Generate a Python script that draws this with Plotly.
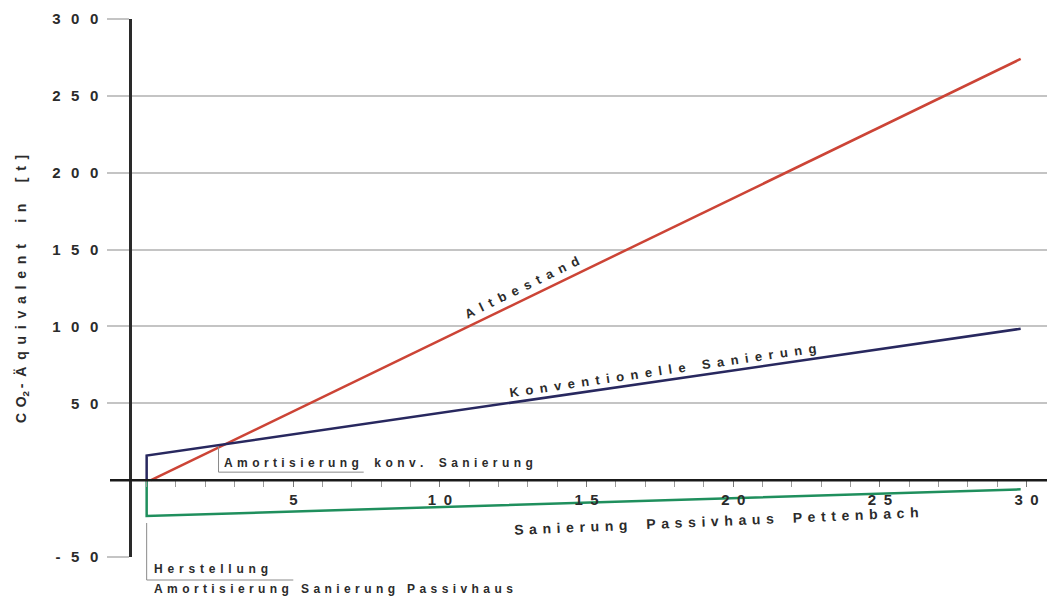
import plotly.graph_objects as go

# ---- data ----
years_alt = [0.15, 29.8]
co2_alt = [0, 274]
years_konv = [0, 0, 29.8]
co2_konv = [0, 16, 98.5]
years_passiv = [0, 0, 29.8]
co2_passiv = [0, -23.3, -6]

y_tickvals = [-50, 50, 100, 150, 200, 250, 300]
y_ticktext = ["-50", "50", "100", "150", "200", "250", "300"]
x_tickvals = [5, 10, 15, 20, 25, 30]
x_ticktext = ["5", "10", "15", "20", "25", "30"]

RED = "#cc4436"
BLUE = "#28285f"
GREEN = "#1f8f5d"
TXT = "#2b2b2b"
FONT = "Liberation Sans"

NB = "\u00a0"
EN = "\u2002"
TH = "\u2009"
HA = "\u200a"


def sp(s, gap=NB, wordgap=NB * 2):
    out = []
    for ch in s:
        out.append(wordgap if ch == " " else ch)
    return gap.join(out)


# page body has an 8px margin: the figure starts at screen (8, 8)
OFF = 8
SW, SH = 1055, 599
W, H = SW - OFF, SH - OFF
PLOT_L, PLOT_R, PLOT_T, PLOT_B = 132, 1050, 19, 557   # screen pixels
L, R, T, B = PLOT_L - OFF, W - (PLOT_R - OFF), PLOT_T - OFF, H - (PLOT_B - OFF)
PW, PH = PLOT_R - PLOT_L, PLOT_B - PLOT_T


def px(xpix):
    return (xpix - PLOT_L) / PW


def py(ypix):
    return (PLOT_B - ypix) / PH


fig = go.Figure()
fig.add_trace(go.Scatter(x=years_alt, y=co2_alt, mode="lines",
                         line=dict(color=RED, width=2.5), showlegend=False))
fig.add_trace(go.Scatter(x=years_konv, y=co2_konv, mode="lines",
                         line=dict(color=BLUE, width=2.5), showlegend=False))
fig.add_trace(go.Scatter(x=years_passiv, y=co2_passiv, mode="lines",
                         line=dict(color=GREEN, width=2.5), showlegend=False))

ymin, ymax = -50, 300
zero_pos = (0 - ymin) / (ymax - ymin)

fig.update_layout(
    width=W, height=H,
    margin=dict(l=L, r=R, t=T, b=B, autoexpand=False),
    paper_bgcolor="white", plot_bgcolor="white",
    font=dict(family=FONT, color=TXT),
    xaxis=dict(range=[-0.5, 30.8], anchor="free", position=zero_pos, automargin=False,
               showline=False, showgrid=False, zeroline=False,
               tickvals=x_tickvals, ticktext=[sp(t, EN) for t in x_ticktext],
               ticks="outside", ticklen=6, tickcolor="#777", tickwidth=1,
               minor=dict(dtick=1, ticks="outside", ticklen=6, tickcolor="#999", tickwidth=1),
               tickfont=dict(family=FONT, size=15, color=TXT, weight="bold")),
    yaxis=dict(range=[ymin, ymax], automargin=False,
               showline=True, linecolor="#2a2a2a", linewidth=2.5,
               showgrid=True, gridcolor="#c4c4c4", gridwidth=1.5, zeroline=False,
               tickvals=y_tickvals, ticktext=[sp(t, EN + TH) for t in y_ticktext],
               ticks="outside", ticklen=22, tickcolor="#c4c4c4", tickwidth=1.5,
               ticklabelstandoff=6,
               tickfont=dict(family=FONT, size=15, color=TXT, weight="bold")),
)

# x-axis (zero) line, extended beyond the plot area like the original
fig.add_shape(type="line", xref="paper", yref="paper",
              x0=px(110), x1=px(1055), y0=zero_pos, y1=zero_pos,
              line=dict(color="#1a1a1a", width=2.5))

# bracket: Amortisierung konv. Sanierung
fig.add_shape(type="line", xref="x", yref="y", x0=2.45, x1=2.45, y0=22, y1=5.2,
              line=dict(color="#8a8a8a", width=1))
fig.add_shape(type="line", xref="x", yref="y", x0=2.45, x1=7.4, y0=5.2, y1=5.2,
              line=dict(color="#8a8a8a", width=1))

# bracket: Herstellung / Amortisierung Sanierung Passivhaus
fig.add_shape(type="line", xref="x", yref="paper", x0=0, x1=0, y0=py(523), y1=py(580),
              line=dict(color="#8a8a8a", width=1))
fig.add_shape(type="line", xref="x", yref="paper", x0=0, x1=5.0, y0=py(580), y1=py(580),
              line=dict(color="#8a8a8a", width=1))

fig.add_annotation(x=12.79, y=125.6, xref="x", yref="y", text=sp("Altbestand", EN),
                   textangle=-25.9, showarrow=False,
                   font=dict(family=FONT, size=13, color=TXT, weight="bold"))
fig.add_annotation(x=17.59, y=71.6, xref="x", yref="y",
                   text=sp("Konventionelle Sanierung", EN, NB),
                   textangle=-8.3, showarrow=False,
                   font=dict(family=FONT, size=13, color=TXT, weight="bold"))
fig.add_annotation(x=19.43, y=-26.7, xref="x", yref="y",
                   text=sp("Sanierung Passivhaus Pettenbach", TH + TH),
                   textangle=-2.5, showarrow=False,
                   font=dict(family=FONT, size=14, color=TXT, weight="bold"))
fig.add_annotation(x=2.56, y=11, xref="x", yref="y", xanchor="left", yanchor="middle",
                   text=sp("Amortisierung konv. Sanierung", TH + HA + HA),
                   showarrow=False,
                   font=dict(family=FONT, size=12, color=TXT, weight="bold"))
fig.add_annotation(x=0.17, y=py(569), xref="x", yref="paper", xanchor="left", yanchor="middle",
                   text=sp("Herstellung", TH + TH), showarrow=False,
                   font=dict(family=FONT, size=12, color=TXT, weight="bold"))
fig.add_annotation(x=0.17, y=py(589), xref="x", yref="paper", xanchor="left", yanchor="middle",
                   text=sp("Amortisierung Sanierung Passivhaus", TH + HA + HA, NB), showarrow=False,
                   font=dict(family=FONT, size=12, color=TXT, weight="bold"))

# y-axis title
fig.add_annotation(x=px(22), y=py(289), xref="paper", yref="paper",
                   xanchor="center", yanchor="middle",
                   text=sp("CO", TH + TH) + "<sub>2</sub>" + TH + sp("-Äquivalent in [t]", TH + TH + HA),
                   textangle=-90, showarrow=False,
                   font=dict(family=FONT, size=14, color=TXT, weight="bold"))

fig.write_html("out.html")
